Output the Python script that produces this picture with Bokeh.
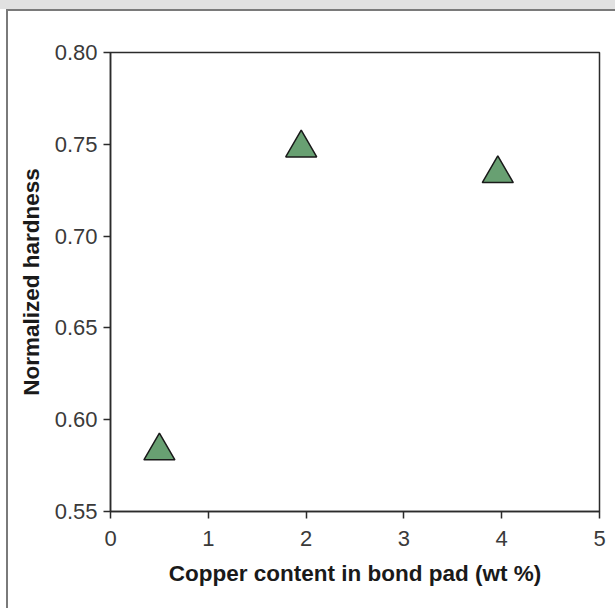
from bokeh.plotting import figure
from bokeh.layouts import column, row
from bokeh.models import (Div, FixedTicker, NumeralTickFormatter, Range1d,
                          ColumnDataSource)
from bokeh.embed import file_html
from bokeh.resources import INLINE

# Hardness measurements vs. copper content
copper_wt = [0.5, 1.95, 3.96]
hardness = [0.583, 0.748, 0.734]

x_ticks = [0, 1, 2, 3, 4, 5]
y_ticks = [0.55, 0.60, 0.65, 0.70, 0.75, 0.80]

FONT = "Liberation Sans"
AXIS_COLOR = "#2b2b2b"
FRAME_GRAY = "#7a7a7a"

p = figure(
    width=607, height=597,
    x_range=Range1d(0, 5), y_range=Range1d(0.55, 0.80),
    output_backend="svg", toolbar_location=None,
    min_border_left=102, min_border_right=16,
    min_border_top=41, min_border_bottom=97,
    margin=0,
)
p.background_fill_color = "white"
p.border_fill_color = "white"
p.outline_line_color = AXIS_COLOR
p.outline_line_width = 1.5
p.xgrid.visible = False
p.ygrid.visible = False

for ax in (p.xaxis[0], p.yaxis[0]):
    ax.axis_line_color = AXIS_COLOR
    ax.axis_line_width = 1.5
    ax.major_tick_line_color = AXIS_COLOR
    ax.major_tick_line_width = 1.5
    ax.major_tick_in = 0
    ax.major_tick_out = 7
    ax.minor_tick_line_color = None
    ax.major_label_text_font = FONT
    ax.major_label_text_font_size = "22px"
    ax.major_label_text_color = "#3a3a3a"
    ax.axis_label_text_font = FONT
    ax.axis_label_text_font_style = "bold"
    ax.axis_label_text_font_size = "22.5px"
    ax.axis_label_text_color = "#1a1a1a"

p.xaxis.ticker = FixedTicker(ticks=x_ticks)
p.yaxis.ticker = FixedTicker(ticks=y_ticks)
p.yaxis.formatter = NumeralTickFormatter(format="0.00")
p.xaxis.major_label_standoff = 12
p.yaxis.major_label_standoff = 6
p.xaxis.axis_label = "Copper content in bond pad (wt %)"
p.yaxis.axis_label = "Normalized hardness"
p.xaxis.axis_label_standoff = 12
p.yaxis.axis_label_standoff = 8

src = ColumnDataSource(dict(x=copper_wt, y=hardness))
p.scatter("x", "y", source=src, marker="triangle", size=31,
          fill_color="#68a072", line_color="#1a1a1a", line_width=1.5)

# Panel chrome: gray header band plus the panel's top and left edge lines
band = Div(text="", width=615, height=9, margin=0,
           styles={"background-color": "#e1e1e1"})
top_line = Div(text="", width=609, height=2, margin=(0, 0, 0, 6),
               styles={"background-color": FRAME_GRAY})
left_gap = Div(text="", width=6, height=597, margin=0)
left_line = Div(text="", width=2, height=597, margin=0,
                styles={"background-color": FRAME_GRAY})

layout = column(band, top_line,
                row(left_gap, left_line, p, spacing=0, margin=0),
                spacing=0, margin=0)

open("out.html", "w").write(file_html(layout, INLINE))
